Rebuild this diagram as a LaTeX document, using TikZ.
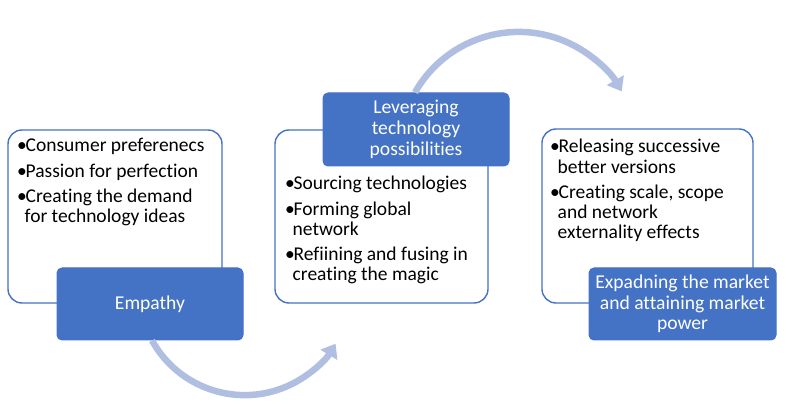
\documentclass[tikz,border=0pt]{standalone}
\usepackage{fontspec}
\setmainfont{Carlito}[Ligatures=NoCommon]
\usetikzlibrary{arrows.meta}
\definecolor{obl}{HTML}{4472C4}
\definecolor{arcc}{RGB}{176,191,225}
\newcommand{\bl}{\makebox[8.5pt][l]{•}}
\newcommand{\ct}{\hspace*{7.5pt}}
\tikzset{
  wbox/.style={draw=obl, line width=1.4pt, fill=white, rounded corners=14pt, inner sep=0pt},
  bbox/.style={draw=obl, line width=1pt, fill=obl, rounded corners=5pt, inner sep=0pt},
  btxt/.style={text=white, align=center, font=\fontsize{19.6}{20.7}\selectfont, inner sep=0pt},
  ltxt/.style={text=black, anchor=base west, font=\fontsize{19.5}{20.2}\selectfont, inner sep=0pt}
}
\tikzset{cyc/.style={draw=arcc, line width=6.5pt, -{Triangle[width=19pt,length=13pt]}}}
\begin{document}
\begin{tikzpicture}[x=1pt,y=1pt]
\useasboundingbox (0,0) rectangle (800,-411);
% white boxes
\node[wbox, minimum width=214pt, minimum height=173pt] (w1) at (115,-216.5) {};
\node[wbox, minimum width=213pt, minimum height=173pt] (w2) at (381.5,-216.5) {};
\node[wbox, minimum width=211pt, minimum height=174pt] (w3) at (647.5,-216) {};
% texts in white boxes
\node[ltxt] (t1) at (17,-152) {\begin{tabular}[t]{@{}l@{}}\bl Consumer preferenecs\\[5pt]\bl Passion for perfection\\[5pt]\bl Creating the demand\\\ct for technology ideas\end{tabular}};
\node[ltxt] (t2) at (285,-190) {\begin{tabular}[t]{@{}l@{}}\bl Sourcing technologies\\[5pt]\bl Forming global\\\ct network\\[5pt]\bl Refiining and fusing in\\\ct creating the magic\end{tabular}};
\node[ltxt] (t3) at (550,-153) {\begin{tabular}[t]{@{}l@{}}\bl Releasing successive\\\ct better versions\\[5pt]\bl Creating scale, scope\\\ct and network\\\ct externality effects\end{tabular}};
% blue boxes
\node[bbox, minimum width=186pt, minimum height=72pt] (emp) at (150,-304) {};
\node[btxt] (empt) at (emp) {Empathy};
\node[bbox, minimum width=186pt, minimum height=73pt] (lev) at (416,-129.5) {};
\node[btxt] (levt) at (lev) {Leveraging\\technology\\possibilities};
\node[bbox, minimum width=187pt, minimum height=72pt] (exp) at (682.5,-304) {};
\node[btxt] (expt) at (exp) {Expadning the market\\and attaining market\\power};
% cycle arrows
\draw[cyc] ([xshift=2pt]emp.south) arc[start angle=209, end angle=329, radius=106];
\draw[cyc] ([xshift=-1pt]lev.north) arc[start angle=150.6, end angle=30, radius=119];
\end{tikzpicture}
\end{document}
